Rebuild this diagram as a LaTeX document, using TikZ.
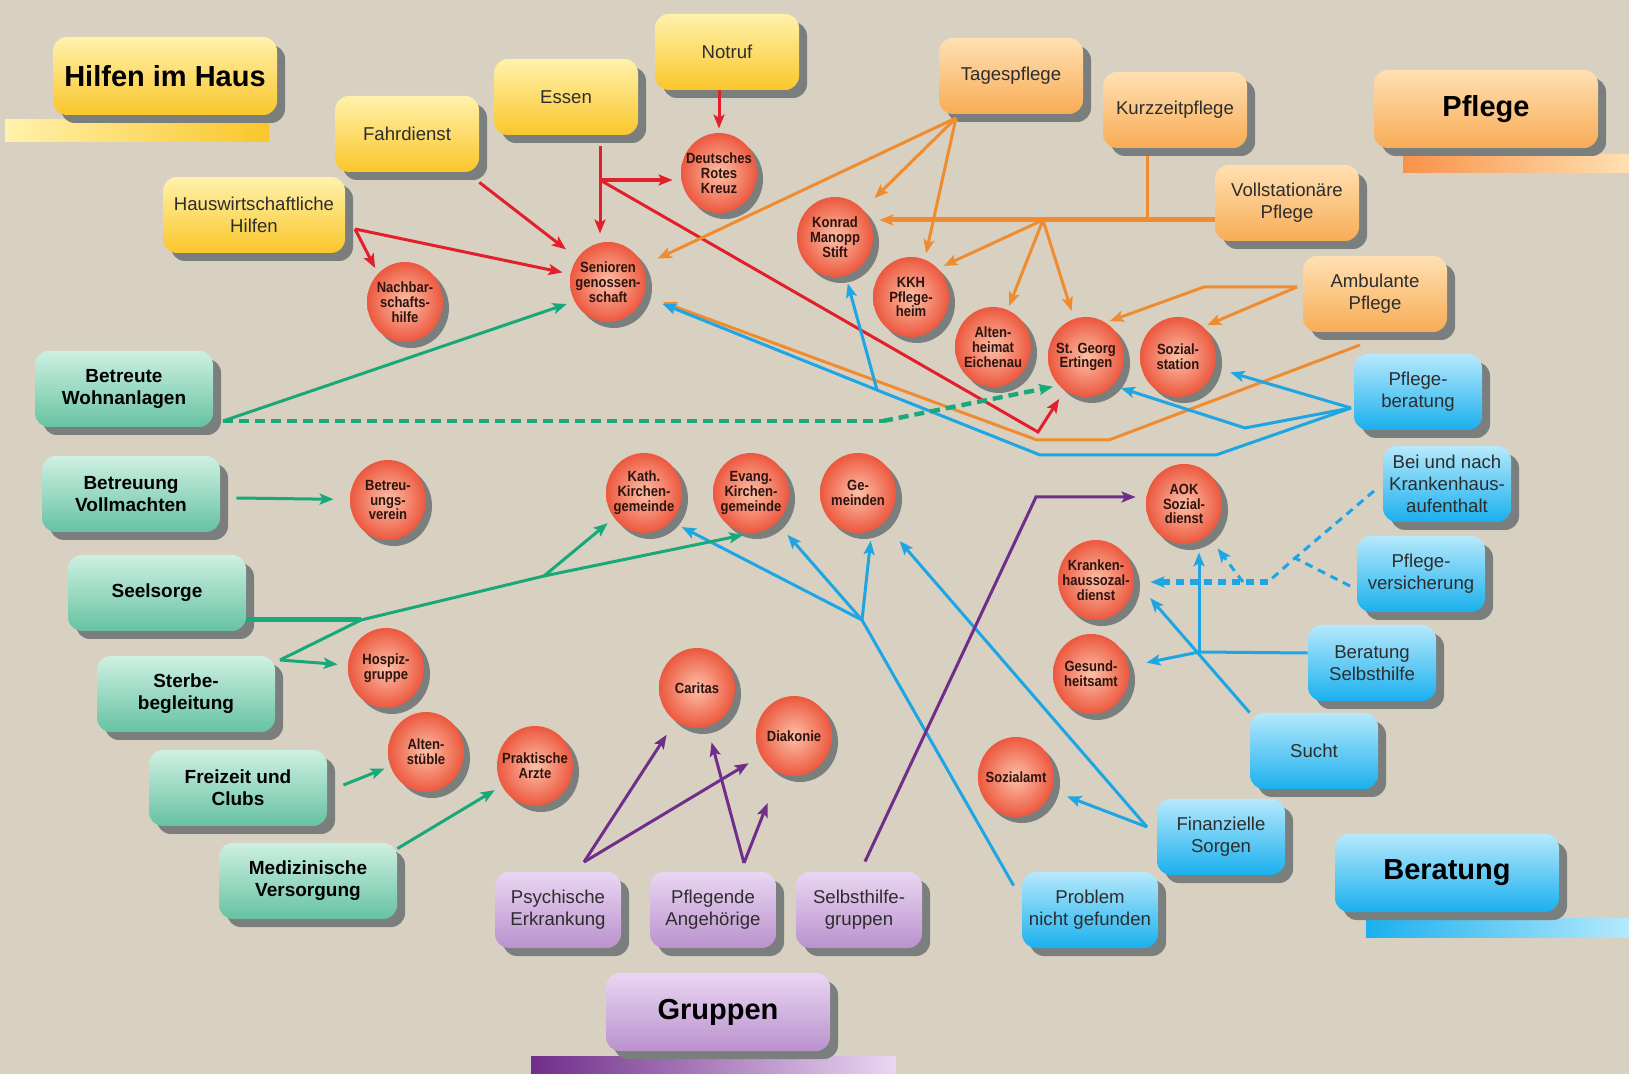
\documentclass[tikz,border=0pt]{standalone}
\usepackage{fontspec}
\setmainfont{Liberation Sans}
\newfontfamily\ballfont[FakeStretch=0.88]{Liberation Sans}
\usetikzlibrary{arrows.meta, shapes.geometric, shadows}

\definecolor{bgbeige}{RGB}{216,209,193}
\definecolor{shadowgrey}{RGB}{122,126,124}
\definecolor{boxtext}{RGB}{45,45,45}
\definecolor{balltext}{RGB}{45,20,15}
\definecolor{lnred}{RGB}{226,32,45}
\definecolor{lnorange}{RGB}{240,140,48}
\definecolor{lnblue}{RGB}{30,165,228}
\definecolor{lngreen}{RGB}{24,168,122}
\definecolor{lnpurple}{RGB}{112,45,138}
\definecolor{yeltop}{RGB}{255,242,172}
\definecolor{yelbot}{RGB}{250,198,42}
\definecolor{ortop}{RGB}{255,224,178}
\definecolor{orbot}{RGB}{248,172,86}
\definecolor{grtop}{RGB}{206,240,226}
\definecolor{grbot}{RGB}{102,194,162}
\definecolor{bltop}{RGB}{182,233,252}
\definecolor{blbot}{RGB}{26,176,238}
\definecolor{putop}{RGB}{234,214,242}
\definecolor{pubot}{RGB}{186,146,206}
\definecolor{ballin}{RGB}{252,192,168}
\definecolor{ballout}{RGB}{236,88,62}

\tikzset{
  >={Stealth[length=7pt, width=5.5pt, inset=1.5pt]}, % arrow heads
  rbox/.style={rectangle, rounded corners=7pt, minimum width=72pt, minimum height=38pt, inner sep=2pt,
    align=center, text=boxtext, font=\fontsize{9.3}{11}\selectfont,
    general shadow={fill=shadowgrey, shadow xshift=4pt, shadow yshift=-4pt}}, % grey shadow to the lower right
  hilfebox/.style={rbox, top color=yeltop, bottom color=yelbot},
  pflegebox/.style={rbox, top color=ortop, bottom color=orbot},
  beratbox/.style={rbox, minimum width=64pt, top color=bltop, bottom color=blbot},
  gruppebox/.style={rbox, minimum width=63pt, top color=putop, bottom color=pubot},
  wohnbox/.style={rbox, minimum width=89pt, text=black, font=\fontsize{9.5}{11}\selectfont\bfseries, top color=grtop, bottom color=grbot},
  catbox/.style={minimum width=112pt, minimum height=39pt, text=black, font=\fontsize{14.5}{16}\selectfont\bfseries},
  ballnode/.style={ellipse, minimum width=38pt, minimum height=40pt, inner xsep=-4pt, inner ysep=0pt,
    align=center, inner color=ballin, outer color=ballout, text=balltext,
    font=\ballfont\fontsize{7.4}{7.4}\selectfont\bfseries,
    general shadow={fill=shadowgrey, shadow xshift=3pt, shadow yshift=-3pt}},
  link/.style={line width=1.5pt},
  redlink/.style={link, lnred},
  orlink/.style={link, lnorange},
  bllink/.style={link, lnblue},
  grlink/.style={link, lngreen},
  pulink/.style={link, lnpurple},
  arr/.style={->, shorten >=#1}, arr/.default=5pt,
  grdash/.style={line width=2.2pt, dash pattern=on 5pt off 3pt},
  bldash/.style={dash pattern=on 4pt off 3pt}
}

\begin{document}
\begin{tikzpicture}[x=0.5pt, y=-0.5pt]
  \useasboundingbox (0,0) rectangle (1629,1074);
  \fill[bgbeige] (0,0) rectangle (1629,1074);

  % bars under the four headings
  \shade[left color=yeltop, right color=yelbot] (5,120) rectangle (269,142);
  \shade[left color=orbot!85!red, right color=ortop] (1403,155) rectangle (1629,173);
  \shade[left color=blbot, right color=bltop] (1366,918) rectangle (1629,937);
  \shade[left color=lnpurple, right color=putop] (531,1056) rectangle (896,1074);

  % headings
  \node[hilfebox, catbox] (hilfen) at (165,76) {Hilfen im Haus};
  \node[pflegebox, catbox] (pflege) at (1486,109) {Pflege};
  \node[beratbox, catbox] (beratung) at (1447,873) {Beratung};
  \node[gruppebox, catbox] (gruppen) at (718,1012) {Gruppen};

  % Hilfen im Haus
  \node[hilfebox] (notruf) at (727,52) {Notruf};
  \node[hilfebox] (essen) at (566,97) {Essen};
  \node[hilfebox] (fahrdienst) at (407,134) {Fahrdienst};
  \node[hilfebox, minimum width=91pt] (hauswirt) at (254,215) {Hauswirtschaftliche\\Hilfen};

  % Pflege
  \node[pflegebox] (tagespflege) at (1011,76) {Tagespflege};
  \node[pflegebox] (kurzzeit) at (1175,110) {Kurzzeitpflege};
  \node[pflegebox] (vollstat) at (1287,203) {Vollstationäre\\Pflege};
  \node[pflegebox] (ambulant) at (1375,294) {Ambulante\\Pflege};

  % Beratung
  \node[beratbox] (pflegeberat) at (1418,392) {Pflege-\\beratung};
  \node[beratbox] (beiundnach) at (1447,484) {Bei und nach\\Krankenhaus-\\aufenthalt};
  \node[beratbox] (pflegevers) at (1421,574) {Pflege-\\versicherung};
  \node[beratbox] (beratsh) at (1372,663) {Beratung\\Selbsthilfe};
  \node[beratbox] (sucht) at (1314,751) {Sucht};
  \node[beratbox] (finanz) at (1221,837) {Finanzielle\\Sorgen};
  \node[beratbox, minimum width=68pt] (problem) at (1090,910) {Problem\\nicht gefunden};

  % Gruppen
  \node[gruppebox] (psychisch) at (558,910) {Psychische\\Erkrankung};
  \node[gruppebox] (pflegend) at (713,910) {Pflegende\\Angehörige};
  \node[gruppebox] (selbsthilfe) at (859,910) {Selbsthilfe-\\gruppen};

  % Wohnen und Begleitung
  \node[wohnbox] (betreute) at (124,389) {Betreute\\Wohnanlagen};
  \node[wohnbox] (betreuung) at (131,494) {Betreuung\\Vollmachten};
  \node[wohnbox] (seelsorge) at (157,593) {Seelsorge};
  \node[wohnbox] (sterbe) at (186,694) {Sterbe-\\begleitung};
  \node[wohnbox] (freizeit) at (238,788) {Freizeit und\\Clubs};
  \node[wohnbox] (medizin) at (308,881) {Medizinische\\Versorgung};

  % Stellen
  \node[ballnode] (drk) at (719,173) {Deutsches\\Rotes\\Kreuz};
  \node[ballnode] (senioren) at (608,282) {Senioren\\genossen-\\schaft};
  \node[ballnode] (nachbar) at (405,302) {Nachbar-\\schafts-\\hilfe};
  \node[ballnode] (konrad) at (835,237) {Konrad\\Manopp\\Stift};
  \node[ballnode] (kkh) at (911,297) {KKH\\Pflege-\\heim};
  \node[ballnode] (altenheim) at (993,347) {Alten-\\heimat\\Eichenau};
  \node[ballnode] (stgeorg) at (1086,357) {St. Georg\\Ertingen};
  \node[ballnode] (sozialst) at (1178,357) {Sozial-\\station};
  \node[ballnode] (betrverein) at (388,500) {Betreu-\\ungs-\\verein};
  \node[ballnode] (kath) at (644,493) {Kath.\\Kirchen-\\gemeinde};
  \node[ballnode] (evang) at (751,493) {Evang.\\Kirchen-\\gemeinde};
  \node[ballnode] (gemeinden) at (858,493) {Ge-\\meinden};
  \node[ballnode] (aok) at (1184,504) {AOK\\Sozial-\\dienst};
  \node[ballnode] (khsd) at (1096,580) {Kranken-\\haussozal-\\dienst};
  \node[ballnode] (gesund) at (1091,674) {Gesund-\\heitsamt};
  \node[ballnode] (sozialamt) at (1016,777) {Sozialamt};
  \node[ballnode] (hospiz) at (386,668) {Hospiz-\\gruppe};
  \node[ballnode] (caritas) at (697,688) {Caritas};
  \node[ballnode] (diakonie) at (794,736) {Diakonie};
  \node[ballnode] (altenst) at (426,752) {Alten-\\stüble};
  \node[ballnode] (praktisch) at (535,766) {Praktische\\Arzte};

  % Hilfen im Haus links
  \coordinate (essenfoot) at (600,146);
  \coordinate (essenfork) at (600,180);
  \coordinate (redknee) at (1038,432);
  \coordinate (hwfork) at (355,229);
  \draw[redlink, arr=2pt] (notruf.south -| drk) -- (drk.north);
  \draw[redlink] (essenfoot) -- (essenfork);
  \draw[redlink, arr=4pt] (essenfork) -- (essenfork |- senioren.north);
  \draw[redlink, line width=2.2pt, arr=4pt] (essenfork) -- (essenfork -| drk.west);
  \draw[redlink, arr=5pt] (essenfork) -- (redknee) -- (stgeorg);
  \draw[redlink, arr=7pt] ([yshift=-5pt]fahrdienst.south east) -- (senioren);
  \draw[redlink, arr=4pt] (hwfork) -- (senioren);
  \draw[redlink, arr=3pt] (hwfork) -- (nachbar.north west);

  % Pflege links
  \coordinate (tpfoot) at (956,118);
  \coordinate (kzfoot) at (1147,156);
  \coordinate (vsjoin) at (1147,220);
  \coordinate (vsfork) at (1043,220);
  \coordinate (ambfork) at (1297,287);
  \coordinate (ambknee) at (1204,287);
  \coordinate (orA) at (1360,345);
  \coordinate (orB) at (1109,440);
  \coordinate (orC) at (1037,440);
  \draw[orlink, arr=8pt] (tpfoot) -- (senioren);
  \draw[orlink, arr=8pt] (tpfoot) -- (konrad);
  \draw[orlink, arr=3pt] (tpfoot) -- (kkh.70);
  \draw[orlink] (kzfoot) -- (vsjoin);
  \draw[orlink, line width=2.5pt, arr=3pt] (vollstat.west |- vsjoin) -- (vsjoin -| konrad.east);
  \draw[orlink, arr=3pt] (vsfork) -- (kkh.north east);
  \draw[orlink, arr=2pt] (vsfork) -- (altenheim);
  \draw[orlink, arr=4pt] (vsfork) -- (stgeorg);
  \draw[orlink, arr=2pt] (ambfork) -- (ambknee) -- (stgeorg.60);
  \draw[orlink, arr=2pt] (ambfork) -- (sozialst.50);
  \draw[orlink, arr=10pt] (orA) -- (orB) -- (orC) -- (senioren);

  % Beratung links
  \coordinate (pbfork) at (1351,408);
  \coordinate (pbknee) at (1245,428);
  \coordinate (blA) at (1216,455);
  \coordinate (blB) at (1040,455);
  \coordinate (blC) at (877,390);
  \draw[bllink, arr=8pt] (pbfork) -- (sozialst);
  \draw[bllink, arr=4pt] (pbfork) -- (pbknee) -- (stgeorg.south east);
  \draw[bllink, arr=10pt] (pbfork) -- (blA) -- (blB) -- (blC) -- (senioren);
  \draw[bllink, arr=4pt] (blC) -- (konrad);

  \coordinate (bnstart) at (1374,491);
  \coordinate (bnknee) at (1295,558);
  \coordinate (bnfork) at (1268,582);
  \coordinate (bnsplit) at (1243,582);
  \coordinate (pvstart) at (1350,586);
  \draw[bllink, bldash] (bnstart) -- (bnknee) -- (bnfork);
  \draw[bllink, bldash] (pvstart) -- (bnknee);
  \draw[bllink, bldash, line width=2.8pt, arr=8pt] (bnfork) -- (bnfork -| khsd.east);
  \draw[bllink, bldash, arr=8pt] (bnsplit) -- (aok);

  \coordinate (bsknee) at (1199,652);
  \draw[bllink] ([yshift=5pt]beratsh.west) -- (bsknee);
  \draw[bllink, arr=4pt] (bsknee) -- (bsknee |- aok.south);
  \draw[bllink, arr=9pt] (bsknee) -- (gesund);
  \draw[bllink, arr=12pt] (sucht.north west) -- (khsd.east);

  \coordinate (fsfork) at (1147,827);
  \draw[bllink, arr=8pt] (fsfork) -- (sozialamt);
  \draw[bllink, arr=12pt] (fsfork) -- (gemeinden);

  \coordinate (pnstart) at ([xshift=-4pt, yshift=-7pt]problem.north west);
  \coordinate (pnfork) at (862,620);
  \draw[bllink] (pnstart) -- (pnfork);
  \draw[bllink, arr=5pt] (pnfork) -- (gemeinden.-70);
  \draw[bllink, arr=8pt] (pnfork) -- (evang);
  \draw[bllink, arr=6pt] (pnfork) -- (kath.south east);

  % Gruppen links
  \coordinate (psfork) at (584,862);
  \coordinate (pafork) at (744,863);
  \coordinate (shknee) at (1036,497);
  \draw[pulink, arr=8pt] (psfork) -- (caritas);
  \draw[pulink, arr=7pt] (psfork) -- (diakonie);
  \draw[pulink, arr=8pt] (pafork) -- (caritas);
  \draw[pulink, arr=16pt] (pafork) -- (diakonie);
  \draw[pulink, arr=5pt] ([xshift=3pt, yshift=5pt]selbsthilfe.north) -- (shknee) -- (shknee -| aok.west);

  % Wohnen und Begleitung links
  \coordinate (bwfork) at (223,421);
  \coordinate (bwknee) at (883,421);
  \coordinate (ssknee) at (361,620);
  \coordinate (ssfork) at (544,576);
  \coordinate (sbknee) at (280,660);
  \draw[grlink, arr=4pt] (bwfork) -- (senioren.210);
  \draw[grlink, grdash] (bwfork) -- (bwknee);
  \draw[grlink, grdash, arr=3pt] (bwknee) -- (stgeorg.south west);
  \draw[grlink, arr=8pt] ([xshift=8pt, yshift=-2pt]betreuung.east) -- (betrverein);
  \draw[grlink, line width=2.5pt] (seelsorge.east |- ssknee) -- (ssknee);
  \draw[grlink, arr=4pt] (sbknee) -- (ssknee) -- (ssfork) -- (evang.south);
  \draw[grlink, arr=4pt] (ssfork) -- (kath);
  \draw[grlink, arr=5pt] (sbknee) -- (hospiz);
  \draw[grlink, arr=3pt] ([xshift=8pt, yshift=1.5pt]freizeit.east) -- (altenst);
  \draw[grlink, arr=4pt] ([yshift=-3pt]medizin.north east) -- (praktisch);
\end{tikzpicture}
\end{document}
